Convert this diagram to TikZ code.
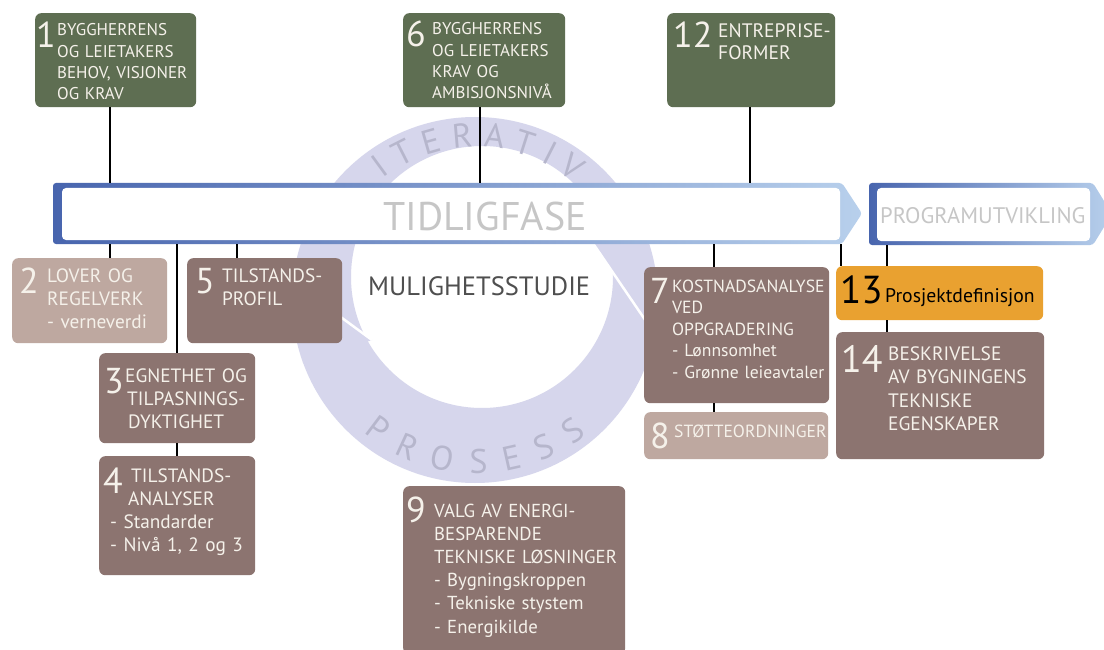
\documentclass[tikz,border=0pt]{standalone}
\usepackage{fontspec}
\setmainfont{PT Sans}
\usetikzlibrary{decorations.text}
\definecolor{gboxc}{HTML}{5E6E52}
\definecolor{dbrown}{HTML}{8C7470}
\definecolor{lbrown}{HTML}{BEA8A0}
\definecolor{orng}{HTML}{E9A130}
\definecolor{ringc}{HTML}{D6D6EC}
\definecolor{ringtxt}{HTML}{B6B6CC}
\definecolor{barL}{HTML}{4865AE}
\definecolor{barR}{HTML}{B8D0EC}
\definecolor{boxtxt}{HTML}{F5F1EA}
\definecolor{phase}{HTML}{C6C6C6}
\definecolor{mstxt}{HTML}{4F4F4F}
\newcommand{\fs}[2]{\fontsize{#1}{#2}\selectfont}
\newcommand{\ringfont}{\fontsize{34}{34}\selectfont}
\begin{document}
\begin{tikzpicture}[x=1pt,y=1pt,
  box/.style={rounded corners=6pt, inner sep=0pt, anchor=north west, draw=none},
  gb/.style={box, fill=gboxc},
  db/.style={box, fill=dbrown},
  lb/.style={box, fill=lbrown},
  ob/.style={box, fill=orng},
  num/.style={anchor=base west, inner sep=0pt, text=boxtxt, font=\fs{36}{36}},
  gtxt/.style={anchor=base west, inner sep=0pt, text=boxtxt, text width=#1, align=left, font=\fs{17}{21.3}},
  btxt/.style={anchor=base west, inner sep=0pt, text=boxtxt, text width=#1, align=left, font=\fs{19.3}{23.3}},
  conn/.style={line width=2pt, black},
  ringtext/.style={font=\ringfont, decorate, decoration={text along path, text={|\ringfont|#1}, text color=ringtxt, text align=fit to path}},
]
\useasboundingbox (0,0) rectangle (1104,-650);
\fill[white] (0,0) rectangle (1104,-650);

% ring
\fill[ringc, even odd rule] (475,-300) circle[radius=183pt] (482,-277) circle[radius=131pt];
\fill[ringc] (588,-236) -- (652,-330) -- (633,-208) -- cycle;
\draw[white, line width=2.5pt] (588,-236) -- (652,-330);
\fill[ringc] (372,-340) -- (293,-282) -- (303,-363) -- cycle;
\draw[white, line width=2.5pt] (372,-340) -- (293,-282);
\path[ringtext=ITERATIV] (476,-298) ++(128:151) arc[start angle=128, end angle=50, radius=151pt];
\path[ringtext=PROSESS] (476,-298) ++(230:175.5) arc[start angle=230, end angle=309, radius=175.5pt];

% bars
\shade[left color=barL, right color=barR, rounded corners=3pt] (53,-183) -- (842,-183) -- (862,-213.5) -- (842,-244) -- (53,-244) -- cycle;
\fill[white, rounded corners=4pt] (62,-188) rectangle (840,-240);
\shade[left color=barL, right color=barR, rounded corners=3pt] (869,-183) -- (1093,-183) -- (1112,-214) -- (1093,-245) -- (869,-245) -- cycle;
\fill[white, rounded corners=4pt] (877,-188) rectangle (1090,-241);
\node[inner sep=0pt, minimum width=809pt, minimum height=61pt, anchor=north west] (tidlig) at (53,-183) {};
\node[inner sep=0pt, minimum width=243pt, minimum height=62pt, anchor=north west] (prog) at (869,-183) {};
\node[anchor=base west, inner sep=0pt, text=phase, font=\fs{40}{40}] (tidligtxt) at (383,-230) {TIDLIGFASE};
\node[anchor=base west, inner sep=0pt, text=phase, font=\fs{22.5}{22.5}] (progtxt) at (880,-223) {PROGRAMUTVIKLING};
\node[anchor=base west, inner sep=0pt, text=mstxt, font=\fs{26.5}{26.5}] (ms) at (368,-295) {MULIGHETSSTUDIE};

% boxes
\node[gb, minimum width=161pt, minimum height=94pt] (b1) at (35,-13) {};
\node[gb, minimum width=162pt, minimum height=94pt] (b6) at (403,-13) {};
\node[gb, minimum width=168pt, minimum height=94pt] (b12) at (667,-13) {};
\node[lb, minimum width=155pt, minimum height=85pt] (b2) at (12,-258) {};
\node[db, minimum width=155pt, minimum height=85pt] (b5) at (187,-258) {};
\node[db, minimum width=156pt, minimum height=90pt] (b3) at (99,-353) {};
\node[db, minimum width=156pt, minimum height=119pt] (b4) at (99,-456) {};
\node[db, minimum width=185pt, minimum height=136pt] (b7) at (644,-267) {};
\node[lb, minimum width=184pt, minimum height=47pt] (b8) at (644,-412) {};
\node[db, minimum width=222pt, minimum height=168pt] (b9) at (403,-486) {};
\node[ob, minimum width=207pt, minimum height=54pt] (b13) at (836,-266) {};
\node[db, minimum width=208pt, minimum height=127pt] (b14) at (836,-332) {};

% connector x positions
\coordinate (cA) at (110,0);
\coordinate (cB) at (177,0);
\coordinate (cC) at (237,0);
\coordinate (cD) at (480,0);
\coordinate (cE) at (714,0);
\coordinate (cF) at (750,0);
\coordinate (cG) at (841,0);
\coordinate (cH) at (887,0);
\draw[conn] (b1.south -| cA) -- (tidlig.north -| cA);
\draw[conn] (b6.south -| cD) -- (tidlig.north -| cD);
\draw[conn] (b12.south -| cF) -- (tidlig.north -| cF);
\draw[conn] (tidlig.south -| cA) -- (b2.north -| cA);
\draw[conn] (tidlig.south -| cB) -- (b3.north -| cB);
\draw[conn] (tidlig.south -| cC) -- (b5.north -| cC);
\draw[conn] (b3.south -| cB) -- (b4.north -| cB);
\draw[conn] (tidlig.south -| cE) -- (b7.north -| cE);
\draw[conn] (b7.south -| cE) -- (b8.north -| cE);
\draw[conn] (tidlig.south -| cG) -- (b13.north -| cG);
\draw[conn] (prog.south -| cH) -- (b13.north -| cH);
\draw[conn] (b13.south -| cH) -- (b14.north -| cH);

% texts
\node[num] (n1) at (36,-48) {1};
\node[gtxt=136pt] (t1) at (57,-36) {BYGGHERRENS\\OG LEIETAKERS\\BEHOV,~VISJONER\\OG KRAV};
\node[num] (n6) at (406,-47) {6};
\node[gtxt=130pt] (t6) at (432,-35) {BYGGHERRENS\\OG LEIETAKERS\\KRAV OG\\AMBISJONSNIVÅ};
\node[num] (n12) at (673,-48) {12};
\node[gtxt=116pt, font=\fs{19.5}{22}] (t12) at (718,-38) {ENTREPRISE-\\FORMER};
\node[num] (n2) at (19,-293) {2};
\node[btxt=118pt] (t2) at (47,-282) {LOVER OG\\REGELVERK\\- verneverdi};
\node[num] (n5) at (195,-293) {5};
\node[btxt=118pt] (t5) at (222,-282) {TILSTANDS-\\PROFIL};
\node[num] (n3) at (104,-393) {3};
\node[btxt=128pt] (t3) at (125,-382) {EGNETHET OG\\\hspace*{2pt}TILPASNINGS-\\\hspace*{3pt}DYKTIGHET};
\node[num] (n4) at (103,-493) {4};
\node[btxt=142pt] (t4) at (110,-482) {\hspace*{21pt}TILSTANDS-\\\hspace*{18pt}ANALYSER\\- Standarder\\- Nivå 1, 2 og 3};
\node[num] (n7) at (650,-303) {7};
\node[btxt=155pt, font=\fs{17.6}{21.5}] (t7) at (672,-292) {KOSTNADSANALYSE\\VED\\OPPGRADERING\\- Lønnsomhet\\- Grønne leieavtaler};
\node[num] (n8) at (650,-448) {8};
\node[btxt=152pt, font=\fs{17.6}{18}] (t8) at (674,-437) {STØTTEORDNINGER};
\node[num] (n9) at (406,-522) {9};
\node[btxt=188pt, font=\fs{18.8}{23.2}] (t9) at (434,-517) {VALG AV ENERGI-\\BESPARENDE\\TEKNISKE~LØSNINGER\\- Bygningskroppen\\- Tekniske stystem\\- Energikilde};
\node[num, text=black, font=\fs{39}{39}] (n13) at (840,-303) {13};
\node[anchor=base west, inner sep=0pt, text=black, font=\fs{19.7}{19.7}] (t13) at (885,-302) {Prosjektdefinisjon};
\node[num, font=\fs{38}{38}] (n14) at (841,-372) {14};
\node[btxt=150pt, font=\fs{19.4}{23.6}] (t14) at (888,-360) {BESKRIVELSE\\AV BYGNINGENS\\TEKNISKE\\EGENSKAPER};
\end{tikzpicture}
\end{document}
